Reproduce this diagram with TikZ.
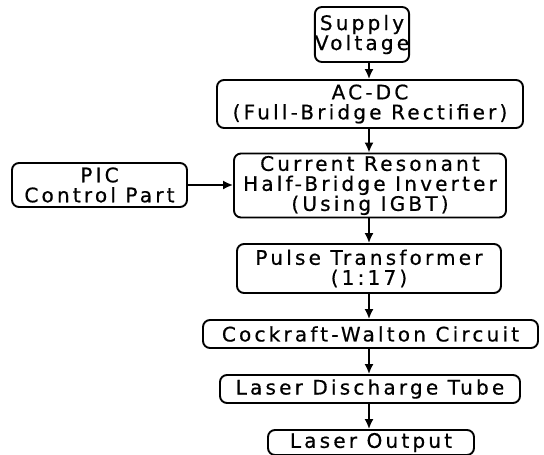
\documentclass[tikz,border=0pt]{standalone}
\usepackage{fontspec}
\setmainfont[LetterSpace=16,FakeBold=0.6]{DejaVu Sans}
\usetikzlibrary{arrows.meta}

\begin{document}
\begin{tikzpicture}
[
	x=1pt, y=-1pt,
	block/.style={draw,line width=1.9pt,rounded corners=7pt,align=center,inner sep=0pt,
		font=\fontsize{20}{20}\selectfont},
	flow/.style={-{Latex[length=10pt,width=9pt]},line width=1.8pt}
]
	\useasboundingbox (0,0) rectangle (544,455);

	% chain of blocks
	\node[block,minimum width=94pt,minimum height=55pt]  (supply) at (362,34.5) {Supply\\Voltage};
	\node[block,minimum width=306pt,minimum height=48pt] (acdc)   at (370,104) {AC-DC\\(Full-Bridge Rectifier)};
	\node[block,minimum width=272pt,minimum height=64pt] (inv)    at (370,185.5) {Current Resonant\\Half-Bridge Inverter\\(Using IGBT)};
	\node[block,minimum width=175pt,minimum height=44pt] (pic)    at (99.5,185) {PIC\\Control Part};
	\node[block,minimum width=264pt,minimum height=49pt] (pulse)  at (369,268.5) {Pulse Transformer\\(1:17)};
	\node[block,minimum width=335pt,minimum height=28pt] (cw)     at (370.5,334) {Cockraft-Walton Circuit};
	\node[block,minimum width=300pt,minimum height=28pt] (tube)   at (370,389) {Laser Discharge Tube};
	\node[block,minimum width=206pt,minimum height=25pt] (out)    at (371,442.5) {Laser Output};

	% arrows
	\coordinate (spine) at (369,0);
	\draw[flow] (supply.south -| spine) -- (acdc.north -| spine);
	\draw[flow] (acdc.south -| spine) -- (inv.north -| spine);
	\draw[flow] (inv.south -| spine) -- (pulse.north -| spine);
	\draw[flow] (pulse.south -| spine) -- (cw.north -| spine);
	\draw[flow] (cw.south -| spine) -- (tube.north -| spine);
	\draw[flow] (tube.south -| spine) -- (out.north -| spine);
	\draw[flow] (pic.east) -- (inv.west |- pic.east);

\end{tikzpicture}
\end{document}
